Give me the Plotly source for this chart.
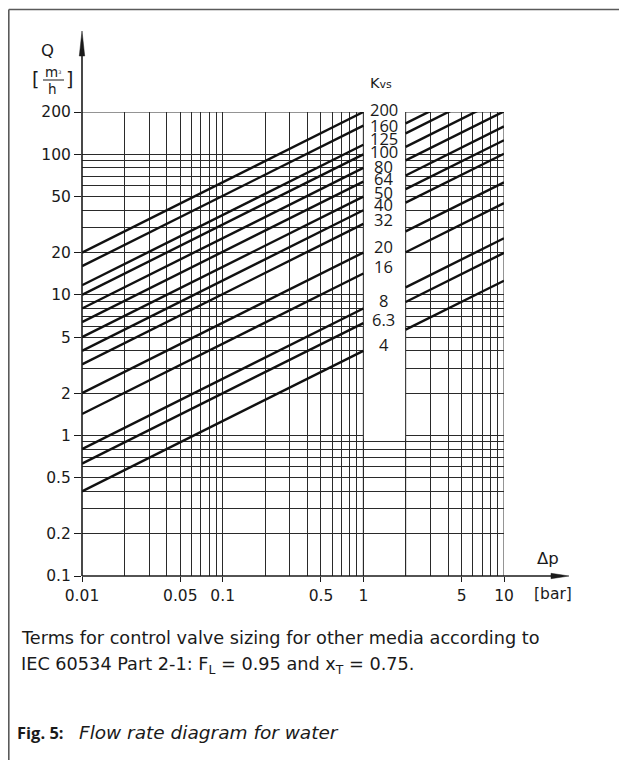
import math
import plotly.graph_objects as go

# ---------------- data ----------------
kvs_labels = ["200", "160", "125", "100", "80", "64", "50", "40", "32", "20", "16", "8", "6.3", "4"]
# flow rate Q [m3/h] at the ends of each line segment, per line (same order as labels)
dp_left = [0.01, 1.0]
dp_right = [2.0, 10.0]
q_at_dp001 = [20, 16, 11.7, 10, 8, 6.4, 5, 4, 3.2, 2, 1.42, 0.8, 0.63, 0.4]
q_at_dp1 = [200, 160, 117, 100, 80, 64, 50, 40, 32, 20, 14.2, 8, 6.3, 4]
q_at_dp2 = [283, 226, 166, 141, 113, 90.5, 70.7, 56.6, 45.3, 28.3, 20.1, 11.3, 8.9, 5.66]
q_at_dp10 = [632, 506, 370, 316, 253, 202, 158, 126, 101, 63.2, 44.9, 25.3, 19.9, 12.6]

x_tick_vals = [0.01, 0.05, 0.1, 0.5, 1, 5, 10]
x_tick_text = ["0.01", "0.05", "0.1", "0.5", "1", "5", "10"]
x_minor_vals = [0.02, 0.03, 0.04, 0.06, 0.07, 0.08, 0.09,
                0.2, 0.3, 0.4, 0.6, 0.7, 0.8, 0.9,
                2, 3, 4, 6, 7, 8, 9]
y_tick_vals = [0.1, 0.2, 0.5, 1, 2, 5, 10, 20, 50, 100, 200]
y_tick_text = ["0.1", "0.2", "0.5", "1", "2", "5", "10", "20", "50", "100", "200"]
y_minor_vals = [0.3, 0.4, 0.6, 0.7, 0.8, 0.9,
                3, 4, 6, 7, 8, 9,
                30, 40, 60, 70, 80, 90]

# label positions (screen pixels) inside the free column -- layout, not data
label_y_px = [110, 126, 138.5, 151.5, 166, 178.5, 192.5, 204, 219.5, 246.5, 266.5, 300.5, 319.5, 344]

# ---------------- geometry ----------------
# the page has an 8 px body margin, so the figure is 8 px smaller than the window
OFF = 8
W, H = 627 - OFF, 760 - OFF
PL, PR, PT, PB = 82, 504, 112, 576          # plot area in screen pixels
ML, MR, MT, MB = PL - OFF, (W + OFF) - PR, PT - OFF, (H + OFF) - PB
PW = PR - PL
PH = PB - PT


def px(x):
    return (x - PL) / PW


def py(y):
    return (PB - y) / PH


GRID = "#2a2a2a"
INK = "#1a1a1a"
TICKFONT = dict(family="DejaVu Sans", size=15.5, color=INK)
TEXTFONT = "DejaVu Sans"

fig = go.Figure()

for i in range(len(kvs_labels)):
    fig.add_trace(go.Scatter(x=dp_left, y=[q_at_dp001[i], q_at_dp1[i]], mode="lines",
                             line=dict(color="#111111", width=2.4), showlegend=False,
                             hoverinfo="skip"))
    fig.add_trace(go.Scatter(x=dp_right, y=[q_at_dp2[i], q_at_dp10[i]], mode="lines",
                             line=dict(color="#111111", width=2.4), showlegend=False,
                             hoverinfo="skip"))

shapes = []
# white free column between 1 and 2 bar (covers grid lines)
shapes.append(dict(type="rect", xref="x", yref="y", x0=1, x1=2, y0=0.95, y1=210,
                   fillcolor="white", line=dict(width=0), layer="between"))
for xv in [1, 2]:
    shapes.append(dict(type="line", xref="x", yref="y", x0=xv, x1=xv, y0=0.1, y1=200,
                       line=dict(color=GRID, width=1), layer="between"))
for xa, xb in [(0.01, 1), (2, 10)]:
    shapes.append(dict(type="line", xref="x", yref="y", x0=xa, x1=xb, y0=200, y1=200,
                       line=dict(color=GRID, width=1), layer="between"))
shapes.append(dict(type="line", xref="x", yref="y", x0=10, x1=10, y0=0.1, y1=200,
                   line=dict(color=GRID, width=1), layer="between"))

# axis arrows
shapes.append(dict(type="line", xref="paper", yref="paper", x0=px(82), x1=px(82),
                   y0=py(576), y1=py(50), line=dict(color=INK, width=1.6)))
shapes.append(dict(type="path", xref="paper", yref="paper",
                   path=f"M {px(82)},{py(31)} L {px(79.3)},{py(56)} L {px(84.7)},{py(56)} Z",
                   fillcolor=INK, line=dict(color=INK, width=0.5)))
shapes.append(dict(type="line", xref="paper", yref="paper", x0=px(82), x1=px(556),
                   y0=py(576), y1=py(576), line=dict(color=INK, width=1.6)))
shapes.append(dict(type="path", xref="paper", yref="paper",
                   path=f"M {px(569)},{py(576)} L {px(551)},{py(573.3)} L {px(551)},{py(578.7)} Z",
                   fillcolor=INK, line=dict(color=INK, width=0.5)))

# frame
FR = "#5a5a5a"
shapes.append(dict(type="line", xref="paper", yref="paper", x0=px(8.8), x1=px(627),
                   y0=py(9.5), y1=py(9.5), line=dict(color=FR, width=1.6)))
shapes.append(dict(type="line", xref="paper", yref="paper", x0=px(8.8), x1=px(8.8),
                   y0=py(9.5), y1=py(760), line=dict(color=FR, width=1.6)))
# fraction bar of the unit
shapes.append(dict(type="line", xref="paper", yref="paper", x0=px(43), x1=px(64),
                   y0=py(80), y1=py(80), line=dict(color=INK, width=1)))


def note(x, y, text, size, family=TEXTFONT, anchor="center"):
    return dict(x=px(x), y=py(y), xref="paper", yref="paper", text=text, showarrow=False,
                xanchor=anchor, yanchor="middle", font=dict(family=family, size=size, color=INK))


annotations = []
for lab, ypix in zip(kvs_labels, label_y_px):
    annotations.append(note(383.5, ypix, lab, 16.5, family="Open Sans"))
annotations.append(note(381, 83, "K<span style='font-size:11px'>vs</span>", 14.5))

annotations.append(note(47, 50, "Q", 16.5))
annotations.append(note(35, 79, "[", 19))
annotations.append(note(69.5, 79, "]", 19))
annotations.append(note(53, 72.5, "m<span style='font-size:7px'><sup>3</sup></span>", 13.5))
annotations.append(note(52, 88.5, "h", 13.5))
annotations.append(note(548, 558, "Δp", 16.5))
annotations.append(note(553, 594, "[bar]", 15.5))

annotations.append(note(19, 638, "Terms for control valve sizing for other media according to",
                        17.7, anchor="left"))
annotations.append(note(19, 665,
                        "IEC 60534 Part 2-1: F<sub>L</sub> = 0.95 and x<sub>T</sub> = 0.75.",
                        17.7, anchor="left"))
annotations.append(note(15, 732, "<b>Fig. 5:</b>", 16.5, family="Open Sans", anchor="left"))
annotations.append(note(77, 732, "<i>Flow rate diagram for water</i>", 18.5, anchor="left"))

fig.update_layout(
    width=W, height=H,
    margin=dict(l=ML, r=MR, t=MT, b=MB, pad=0),
    paper_bgcolor="white", plot_bgcolor="white",
    shapes=shapes, annotations=annotations,
    showlegend=False,
    xaxis=dict(type="log", range=[-2, 1], tickvals=x_tick_vals, ticktext=x_tick_text,
               ticks="outside", ticklen=5, tickcolor=INK, tickwidth=1,
               showgrid=True, gridcolor=GRID, gridwidth=1, zeroline=False, showline=False,
               tickfont=TICKFONT,
               minor=dict(tickvals=x_minor_vals, showgrid=True, gridcolor=GRID, gridwidth=1,
                          ticks="")),
    yaxis=dict(type="log", range=[-1, math.log10(200)], tickvals=y_tick_vals, ticktext=y_tick_text,
               ticks="outside", ticklen=7, tickcolor=INK, tickwidth=1,
               showgrid=True, gridcolor=GRID, gridwidth=1, zeroline=False, showline=False,
               tickfont=TICKFONT,
               minor=dict(tickvals=y_minor_vals, showgrid=True, gridcolor=GRID, gridwidth=1,
                          ticks="")),
)

fig.write_html("out.html")
